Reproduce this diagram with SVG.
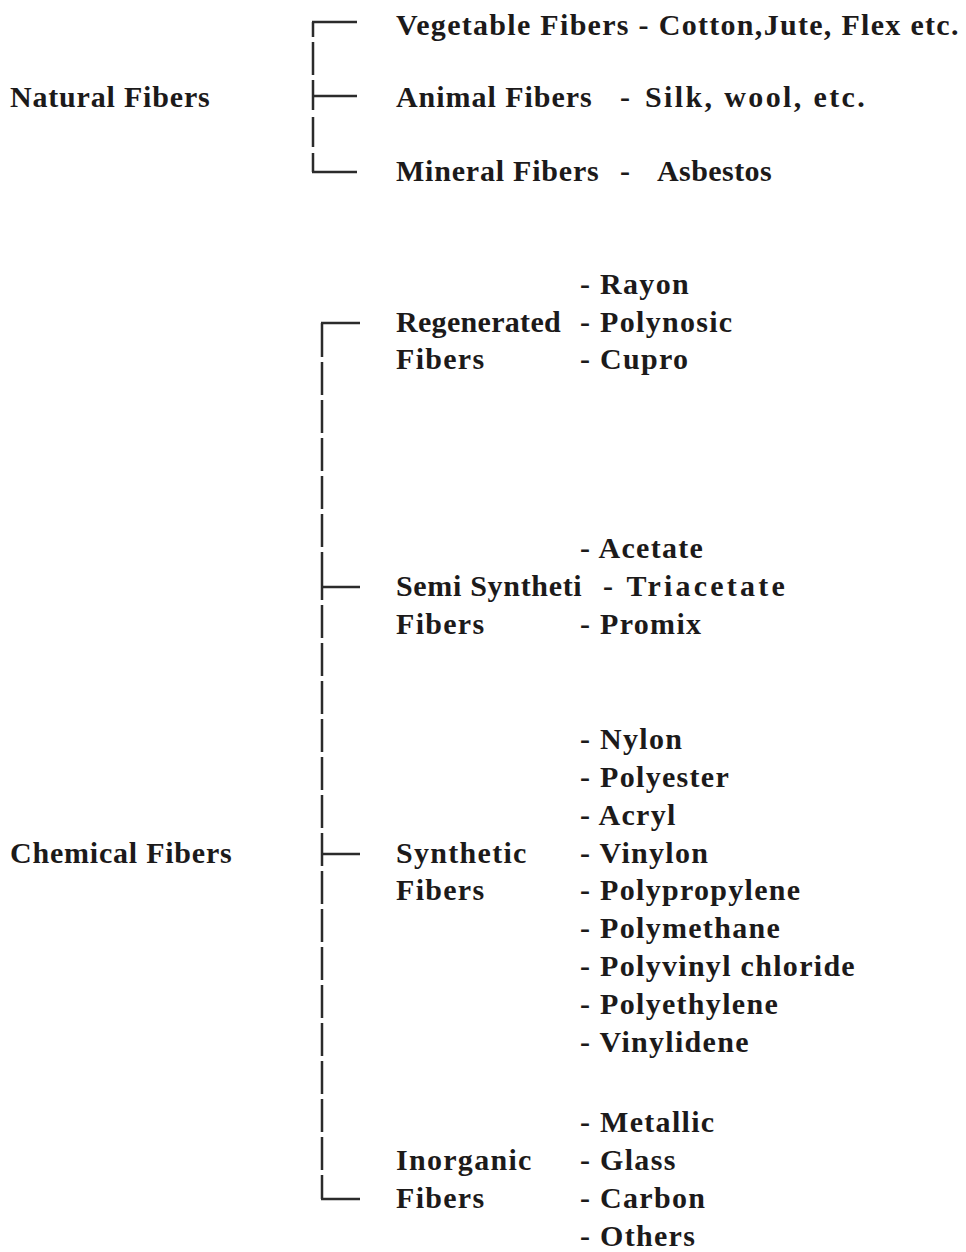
<svg xmlns="http://www.w3.org/2000/svg" width="966" height="1252" viewBox="0 0 966 1252">
<style>
text{font-family:"Liberation Serif","Times New Roman",serif;font-weight:bold;font-size:30px;letter-spacing:1.3px;fill:#1c1a1a}
.ln{stroke:#2b2b2b;stroke-width:2.5;fill:none}
</style>
<rect width="966" height="1252" fill="#ffffff"/>
<g id="connectors">
<path class="ln" d="M313,22 V37 M313,42 V75 M313,80 V110 M313,117 V147 M313,153 V172"/>
<path class="ln" d="M312,22 H357 M313,96 H357 M312,172 H357"/>
<path class="ln" d="M322,323 V357 M322,362 V395 M322,400 V433 M322,438 V471 M322,476 V509 M322,514 V547 M322,552 V600 M322,605 V638 M322,643 V676 M322,681 V714 M322,719 V752 M322,757 V790 M322,795 V828 M322,833 V866 M322,871 V904 M322,909 V942 M322,947 V980 M322,985 V1018 M322,1023 V1056 M322,1061 V1094 M322,1099 V1132 M322,1137 V1170 M322,1175 V1199"/>
<path class="ln" d="M321,323 H360 M322,587 H360 M322,854 H360 M321,1199 H360"/>
</g>
<g id="natural"><text x="10" y="107" textLength="201">Natural Fibers</text></g>
<g id="vegetable"><text x="396" y="35">Vegetable Fibers - Cotton,Jute, Flex etc.</text></g>
<g id="animal"><text x="396" y="107" textLength="197">Animal Fibers</text><text x="620" y="107">-</text><text x="645" y="107" textLength="221">Silk, wool, etc.</text></g>
<g id="mineral"><text x="396" y="181" textLength="204">Mineral Fibers</text><text x="620" y="181">-</text><text x="657" y="181" textLength="116">Asbestos</text></g>
<g id="regenerated"><text x="396" y="332" textLength="166">Regenerated</text><text x="396" y="369">Fibers</text>
<text x="580" y="294">- Rayon</text><text x="580" y="332">- Polynosic</text><text x="580" y="369">- Cupro</text></g>
<g id="semisynthetic"><text x="396" y="596" textLength="187">Semi Syntheti</text><text x="396" y="634">Fibers</text>
<text x="580" y="558">- Acetate</text><text x="603" y="596" textLength="183">- Triacetate</text><text x="580" y="634">- Promix</text></g>
<g id="chemical"><text x="10" y="863" textLength="223">Chemical Fibers</text></g>
<g id="synthetic"><text x="396" y="863">Synthetic</text><text x="396" y="900">Fibers</text>
<text x="580" y="749">- Nylon</text><text x="580" y="787">- Polyester</text><text x="580" y="825">- Acryl</text><text x="580" y="863">- Vinylon</text><text x="580" y="900">- Polypropylene</text><text x="580" y="938">- Polymethane</text><text x="580" y="976">- Polyvinyl chloride</text><text x="580" y="1014">- Polyethylene</text><text x="580" y="1052">- Vinylidene</text></g>
<g id="inorganic"><text x="396" y="1170">Inorganic</text><text x="396" y="1208">Fibers</text>
<text x="580" y="1132">- Metallic</text><text x="580" y="1170">- Glass</text><text x="580" y="1208">- Carbon</text><text x="580" y="1246">- Others</text></g>
</svg>
